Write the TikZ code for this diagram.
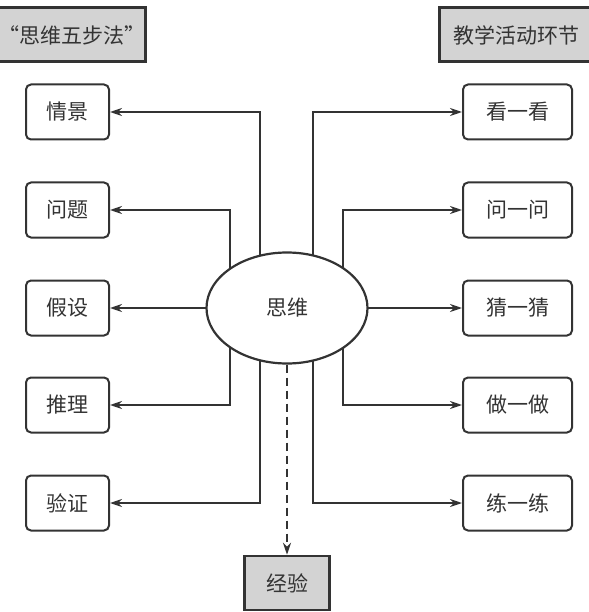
\documentclass[tikz,border=0pt]{standalone}
\usepackage{fontspec}
\newfontfamily\cjk{Noto Sans CJK SC}
\usetikzlibrary{arrows.meta,positioning,shapes.geometric}
\definecolor{Ink}{HTML}{333333}
\definecolor{Shade}{HTML}{D3D3D3}

\begin{document}
\begin{tikzpicture}[x=1pt,y=-1pt,
    every node/.style={font=\cjk\fontsize{21}{24}\selectfont,text=Ink},
    item/.style={draw=Ink,line width=2pt,rounded corners=5pt,fill=white,minimum height=55pt,inner sep=0pt},
    head/.style={draw=Ink,line width=3pt,fill=Shade,minimum height=54pt,inner sep=0pt},
    think/.style={ellipse,draw=Ink,line width=2.2pt,fill=white,minimum width=161pt,minimum height=111pt,inner sep=0pt},
    link/.style={draw=Ink,line width=2.8pt,-{Stealth[length=12pt,width=8pt]}}]
  \useasboundingbox (0,0) rectangle (588,612);
  % headers
  \path[head] (-6,8) rectangle (145,62);
  \node (wbf) at (72,35) {“思维五步法”};
  \path[head] (439,8) rectangle (594,62);
  \node (jxhd) at (516,35) {教学活动环节};
  % boxes
  \foreach \y/\lab/\nm in {112/情景/qj,210/问题/wt,308/假设/js,405/推理/tl,503/验证/yz}
    \node[item,minimum width=83pt] (\nm) at (67.5,\y) {\lab};
  \foreach \y/\lab/\nm in {112/看一看/kyk,210/问一问/wyw,308/猜一猜/cyc,405/做一做/zyz,503/练一练/lyl}
    \node[item,minimum width=109pt] (\nm) at (517.5,\y) {\lab};
  % connectors
  \coordinate (c) at (287,308);
  \foreach \nm/\dx in {qj/-27,wt/-57,tl/-57,yz/-27}
    \draw[link] (c) ++(\dx,0) |- (\nm.east);
  \foreach \nm/\dx in {kyk/26,wyw/56,zyz/56,lyl/26}
    \draw[link] (c) ++(\dx,0) |- (\nm.west);
  \draw[link] (c) -- (js);
  \draw[link] (c) -- (cyc);
  \node[think] (sw) at (c) {思维};
  \node[head,line width=2.5pt,minimum width=85pt] (jy) at (287,583) {经验};
  \draw[link,dash pattern=on 8pt off 5pt] (sw) -- (jy);
\end{tikzpicture}
\end{document}
